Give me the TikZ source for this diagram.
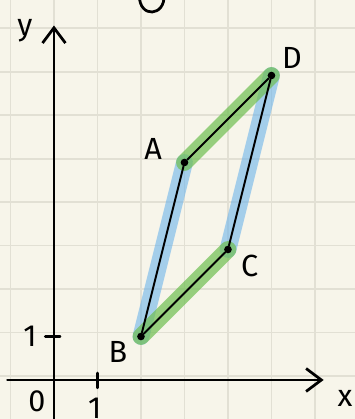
\documentclass[tikz,border=0pt]{standalone}
\usepackage{fontspec}
\setmainfont{Fira Sans}
\usetikzlibrary{arrows.meta,backgrounds}

\definecolor{paper}{RGB}{247,245,234}
\definecolor{gridcol}{RGB}{226,224,212}
\definecolor{hlgreen}{RGB}{110,190,80}
\definecolor{hlblue}{RGB}{110,180,235}

\begin{document}
\begin{tikzpicture}[
  font=\fontsize{20}{24}\selectfont,
  line cap=round, line join=round,
  >={Straight Barb[length=10pt,width=15pt]},
  gridline/.style={draw=gridcol, line width=1.2pt},
  axis/.style={line width=1.8pt, draw=black},
  vertex/.style={circle, fill=black, inner sep=0pt, minimum size=5pt},
  greenhl/.style={draw=hlgreen, line width=11pt, line cap=round, opacity=0.7},
  bluehl/.style={draw=hlblue, line width=11pt, line cap=round, opacity=0.6},
  side/.style={draw=black, line width=1.3pt},
  lbl/.style={inner sep=1pt}
]

% =========================================================================
% Blatt (Größe 355x419)
% =========================================================================
\useasboundingbox (-1.241,-0.897) rectangle (6.920,8.736);

% Eckpunkte
\node[vertex] (A) at (3,5) {};
\node[vertex] (B) at (2,1) {};
\node[vertex] (C) at (4,3) {};
\node[vertex] (D) at (5,7) {};

\begin{pgfonlayer}{background}
  \fill[paper] (-1.241,-0.897) rectangle (6.920,8.736);
  \draw[gridline, yshift=0.09cm] (-2,-2) grid (8,10);

  % parallele Seiten markiert
  \draw[bluehl]  (A.center) -- (B.center);
  \draw[bluehl]  (C.center) -- (D.center);
  \draw[greenhl] (A.center) -- (D.center);
  \draw[greenhl] (B.center) -- (C.center);
\end{pgfonlayer}

% =========================================================================
% Achsen
% =========================================================================
\coordinate (xstart) at (-1.07,0);
\coordinate (xend)   at (6.2,0);
\coordinate (ystart) at (0,-1.0);
\coordinate (yend)   at (0,8.15);

\draw[axis, ->] (xstart) -- (xend);
\draw[axis, ->] (ystart) -- (yend);

% Striche bei 1
\draw[axis] (1,0.16) -- (1,-0.18);
\draw[axis] (-0.2,1) -- (0.14,1);

\node[lbl] (ylbl) at (-0.67,8.02) {y};
\node[lbl] (xlbl) at (6.69,-0.42) {x};
\node[lbl] (olbl) at (-0.39,-0.50) {0};
\node[lbl] (xone) at (0.94,-0.64) {1};
\node[lbl] (yone) at (-0.55,1.01) {1};

% abgeschnittener Buchstabe oben
\draw[axis] (1.96,8.85) .. controls (1.96,8.30) and (2.56,8.36) .. (2.53,8.85);

% =========================================================================
% Parallelogramm ABCD
% =========================================================================
\draw[side] (A) -- (B);
\draw[side] (B) -- (C);
\draw[side] (C) -- (D);
\draw[side] (D) -- (A);

\node[lbl] (Albl) at (2.28,5.30) {A};
\node[lbl] (Blbl) at (1.47,0.64) {B};
\node[lbl] (Clbl) at (4.50,2.62) {C};
\node[lbl] (Dlbl) at (5.47,7.40) {D};

\end{tikzpicture}
\end{document}
